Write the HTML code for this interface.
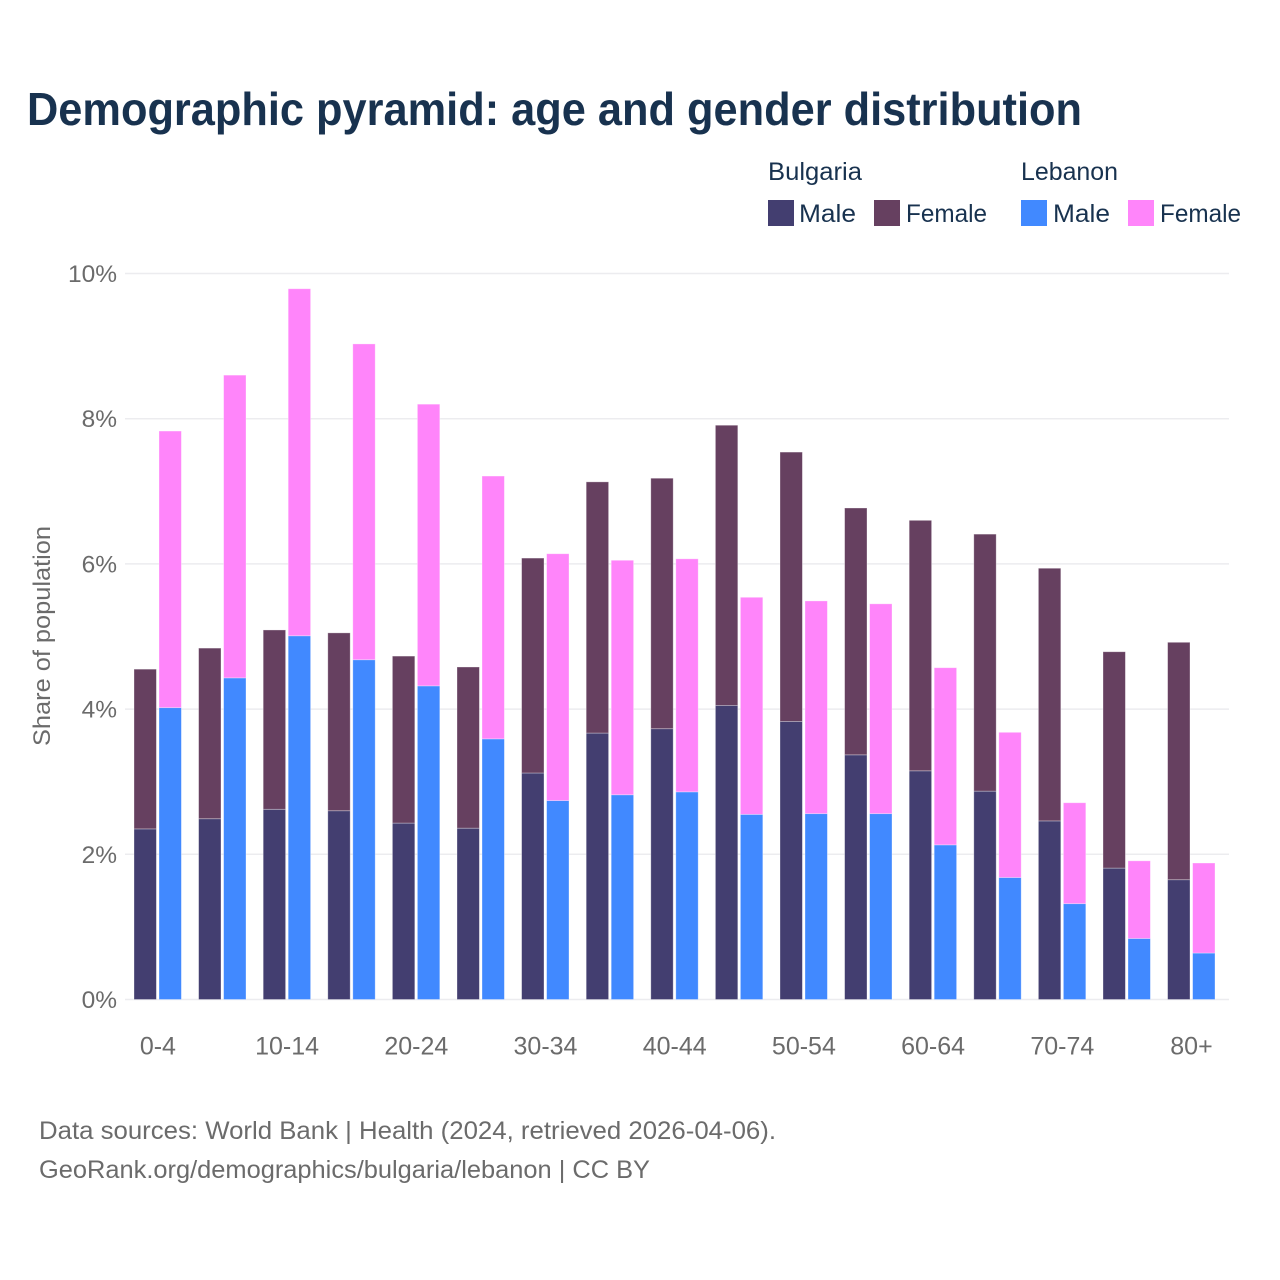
<!DOCTYPE html>
<html lang="en">
<head>
<meta charset="utf-8">
<title>Demographic pyramid: age and gender distribution</title>
<style>
html,body{margin:0;padding:0;background:#fff;}
svg{display:block;font-family:"Liberation Sans",sans-serif;}
</style>
</head>
<body>
<svg id="chart" xmlns="http://www.w3.org/2000/svg" width="1280" height="1280" viewBox="0 0 1280 1280">
  <rect x="0" y="0" width="1280" height="1280" fill="#ffffff"/>
  <text x="27" y="125" font-size="46" font-weight="700" fill="#18324f" textLength="1055" lengthAdjust="spacingAndGlyphs">Demographic pyramid: age and gender distribution</text>

  <g font-size="25" fill="#18324f">
    <text x="768" y="180" textLength="94" lengthAdjust="spacingAndGlyphs">Bulgaria</text>
    <text x="1021" y="180" textLength="97" lengthAdjust="spacingAndGlyphs">Lebanon</text>
    <rect x="768" y="200" width="26" height="26" fill="#433e70"/>
    <text x="799" y="222" textLength="57" lengthAdjust="spacingAndGlyphs">Male</text>
    <rect x="874" y="200" width="26" height="26" fill="#664060"/>
    <text x="906" y="222" textLength="81" lengthAdjust="spacingAndGlyphs">Female</text>
    <rect x="1021" y="200" width="26" height="26" fill="#4189ff"/>
    <text x="1053" y="222" textLength="57" lengthAdjust="spacingAndGlyphs">Male</text>
    <rect x="1128" y="200" width="26" height="26" fill="#ff85fa"/>
    <text x="1160" y="222" textLength="81" lengthAdjust="spacingAndGlyphs">Female</text>
  </g>

  <g id="grid"></g>
  <g id="bars"></g>
  <g id="yticks"></g>
  <g id="xticks"></g>

  <text transform="translate(50,636) rotate(-90)" text-anchor="middle" font-size="24" fill="#6b6b6b" textLength="220" lengthAdjust="spacingAndGlyphs">Share of population</text>

  <text x="39" y="1139" font-size="25" fill="#6b6b6b" textLength="737" lengthAdjust="spacingAndGlyphs">Data sources: World Bank | Health (2024, retrieved 2026-04-06).</text>
  <text x="39" y="1178" font-size="25" fill="#6b6b6b" textLength="611" lengthAdjust="spacingAndGlyphs">GeoRank.org/demographics/bulgaria/lebanon | CC BY</text>
</svg>

<script>
var ageGroups = ["0-4","5-9","10-14","15-19","20-24","25-29","30-34","35-39","40-44","45-49","50-54","55-59","60-64","65-69","70-74","75-79","80+"];
var xTickLabels = ["0-4","10-14","20-24","30-34","40-44","50-54","60-64","70-74","80+"];
var yTickValues = [0,2,4,6,8,10];
var bulgariaMale = [2.35,2.49,2.62,2.60,2.43,2.36,3.12,3.67,3.73,4.05,3.83,3.37,3.15,2.87,2.46,1.81,1.65];
var bulgariaFemale = [2.20,2.35,2.47,2.45,2.30,2.22,2.96,3.46,3.45,3.86,3.71,3.40,3.45,3.54,3.48,2.98,3.27];
var lebanonMale = [4.02,4.43,5.01,4.68,4.32,3.59,2.74,2.82,2.86,2.55,2.56,2.56,2.13,1.68,1.32,0.84,0.64];
var lebanonFemale = [3.81,4.17,4.78,4.35,3.88,3.62,3.40,3.23,3.21,2.99,2.93,2.89,2.44,2.00,1.39,1.07,1.24];

var NS = 'http://www.w3.org/2000/svg';
var BAR_WIDTH = 22.4;
function yScale(v) { return 999.5 - v * 72.6; }
function xCenter(i) { return 157.9 + i * 64.6; }

function addRect(parent, x, y0, y1, fill) {
  var r = document.createElementNS(NS, 'rect');
  r.setAttribute('x', x);
  r.setAttribute('y', y1);
  r.setAttribute('width', BAR_WIDTH);
  r.setAttribute('height', Math.max(0, y0 - y1));
  r.setAttribute('fill', fill);
  r.setAttribute('stroke', '#ffffff');
  r.setAttribute('stroke-opacity', '0.4');
  r.setAttribute('stroke-width', '0.8');
  parent.appendChild(r);
  return r;
}

var grid = document.getElementById('grid');
var yticks = document.getElementById('yticks');
yTickValues.forEach(function (v) {
  var line = document.createElementNS(NS, 'line');
  
  
  line.setAttribute('x1', 125);
  line.setAttribute('x2', 1229);
  line.setAttribute('y1', yScale(v));
  line.setAttribute('y2', yScale(v));
  line.setAttribute('stroke', '#ececef');
  line.setAttribute('stroke-width', '1.5');
  grid.appendChild(line);

  var t = document.createElementNS(NS, 'text');
  
  
  t.setAttribute('x', 117);
  t.setAttribute('y', yScale(v) + 8.5);
  t.setAttribute('text-anchor', 'end');
  t.setAttribute('font-size', '24.5');
  t.setAttribute('fill', '#6b6b6b');
  t.textContent = v + '%';
  yticks.appendChild(t);
});

var bars = document.getElementById('bars');
ageGroups.forEach(function (age, i) {
  var c = xCenter(i);
  var bLeft = c - 23.9;
  var lLeft = c + 1.1;

  var b1 = addRect(bars, bLeft, yScale(0), yScale(bulgariaMale[i]), '#433e70');
  
  

  var b2 = addRect(bars, bLeft, yScale(bulgariaMale[i]), yScale(bulgariaMale[i] + bulgariaFemale[i]), '#664060');
  
  

  var l1 = addRect(bars, lLeft, yScale(0), yScale(lebanonMale[i]), '#4189ff');
  
  

  var l2 = addRect(bars, lLeft, yScale(lebanonMale[i]), yScale(lebanonMale[i] + lebanonFemale[i]), '#ff85fa');
  
  
});

var xticks = document.getElementById('xticks');
xTickLabels.forEach(function (label) {
  var t = document.createElementNS(NS, 'text');
  
  
  t.setAttribute('x', xCenter(ageGroups.indexOf(label)));
  t.setAttribute('y', 1054.5);
  t.setAttribute('text-anchor', 'middle');
  t.setAttribute('font-size', '25');
  t.setAttribute('fill', '#6b6b6b');
  t.textContent = label;
  xticks.appendChild(t);
});
</script>
</body>
</html>
